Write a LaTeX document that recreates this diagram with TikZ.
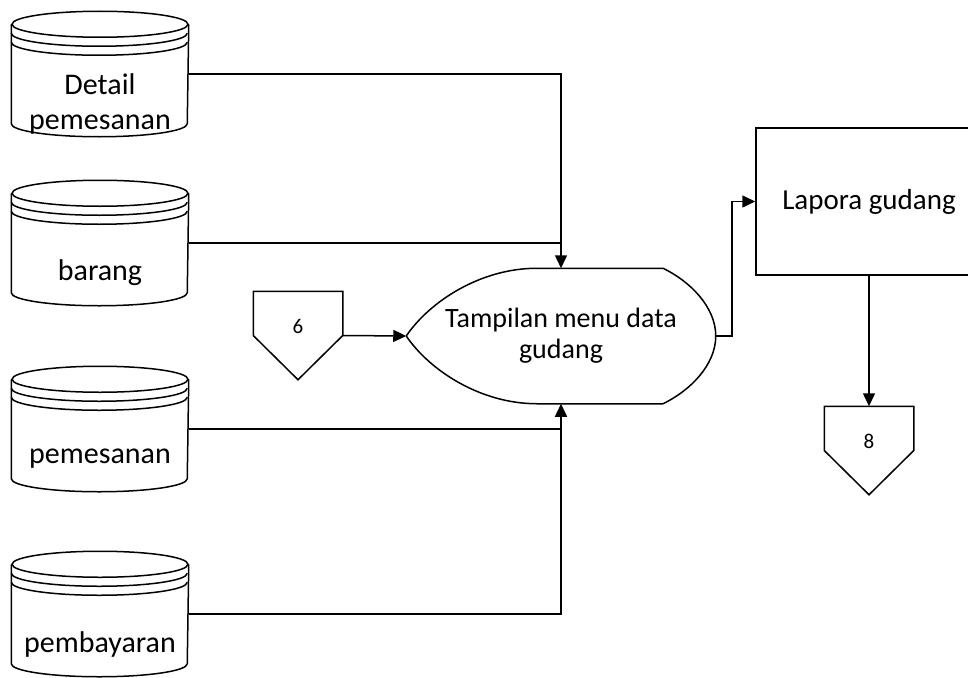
\documentclass[tikz,border=0pt]{standalone}
\usepackage{fontspec}
\setmainfont{Carlito}
\usetikzlibrary{calc,arrows.meta}
\tikzset{
	store/.style={minimum width=176pt, minimum height=124pt, inner sep=0pt},
	storetext/.style={font=\fontsize{30}{35}\selectfont, align=center, inner sep=0pt},
	disptext/.style={minimum width=308pt, minimum height=134pt, inner sep=0pt, align=center, font=\fontsize{28}{31}\selectfont},
	report/.style={draw, minimum width=226pt, minimum height=147pt, inner sep=0pt, font=\fontsize{29}{33}\selectfont},
	offpage/.style={minimum width=88pt, minimum height=87pt, inner sep=0pt, text depth=19pt, font=\fontsize{21}{24}\selectfont},
	flow/.style={-{Triangle[length=13pt,width=12pt]}}
}
\def\datastore(#1)(#2)#3{%
	\node[store] (#1) at (#2) {};
	\draw[fill=white] ([yshift=-13pt]#1.north west) -- ([yshift=13pt]#1.south west) arc[start angle=180, end angle=360, x radius=88pt, y radius=13pt] -- ([yshift=-13pt]#1.north east);
	\draw ([yshift=-13pt]#1.north) ellipse [x radius=88pt, y radius=13pt];
	\draw ([yshift=-22pt]#1.north west) arc[start angle=180, end angle=360, x radius=88pt, y radius=13pt];
	\draw ([yshift=-31pt]#1.north west) arc[start angle=180, end angle=360, x radius=88pt, y radius=13pt];
	\node[storetext] (#1-t) at ([yshift=-30pt]#1.center) {#3};
}
\def\offconn(#1)(#2)#3{%
	\node[offpage] (#1) at (#2) {#3};
	\draw (#1.north west) -- (#1.north east) -- (#1.east) -- (#1.south) -- (#1.west) -- cycle;
}

\begin{document}
\begin{tikzpicture}[x=1pt, y=-1pt, line width=1.5pt]
	%%%%% START %%%%%
	\useasboundingbox (0, 0) rectangle (968, 677);
	
	\datastore(det)(100, 74){Detail\\pemesanan}
	\datastore(bar)(100, 243){barang}
	\datastore(pms)(100, 429){pemesanan}
	\datastore(pby)(100, 614){pembayaran}
	
	\offconn(off6)(298, 335.5){6}
	
	\node[disptext] (disp) at (561, 336) {Tampilan menu data\\gudang};
	\draw (disp.west) .. controls ($(disp.west)+(23,-34)$) and ($(disp.north)+(-81,0)$) .. ($(disp.north)+(-24,0)$)
		-- ($(disp.north)+(102,0)$) .. controls ($(disp.north)+(129,13)$) and ($(disp.east)+(0,-29)$) .. (disp.east)
		.. controls ($(disp.east)+(0,29)$) and ($(disp.south)+(129,-13)$) .. ($(disp.south)+(102,0)$)
		-- ($(disp.south)+(-24,0)$) .. controls ($(disp.south)+(-81,0)$) and ($(disp.west)+(23,34)$) .. (disp.west);
	
	\node[report] (lap) at (869, 201.5) {Lapora gudang};
	\offconn(off8)(869, 450.5){8}
	
	\draw[flow] (det.east) -| (disp.north);
	\draw (bar.east) -- (bar.east -| disp.north);
	\draw (pms.east) -- (pms.east -| disp.south);
	\draw[flow] (pby.east) -| (disp.south);
	\draw[flow] (off6.east) -- (disp.west);
	\draw[flow] (disp.east) -- ++(16, 0) |- (lap.west);
	\draw[flow] (lap.south) -- (off8.north);
	
	%%%%% END %%%%%
\end{tikzpicture}
\end{document}
